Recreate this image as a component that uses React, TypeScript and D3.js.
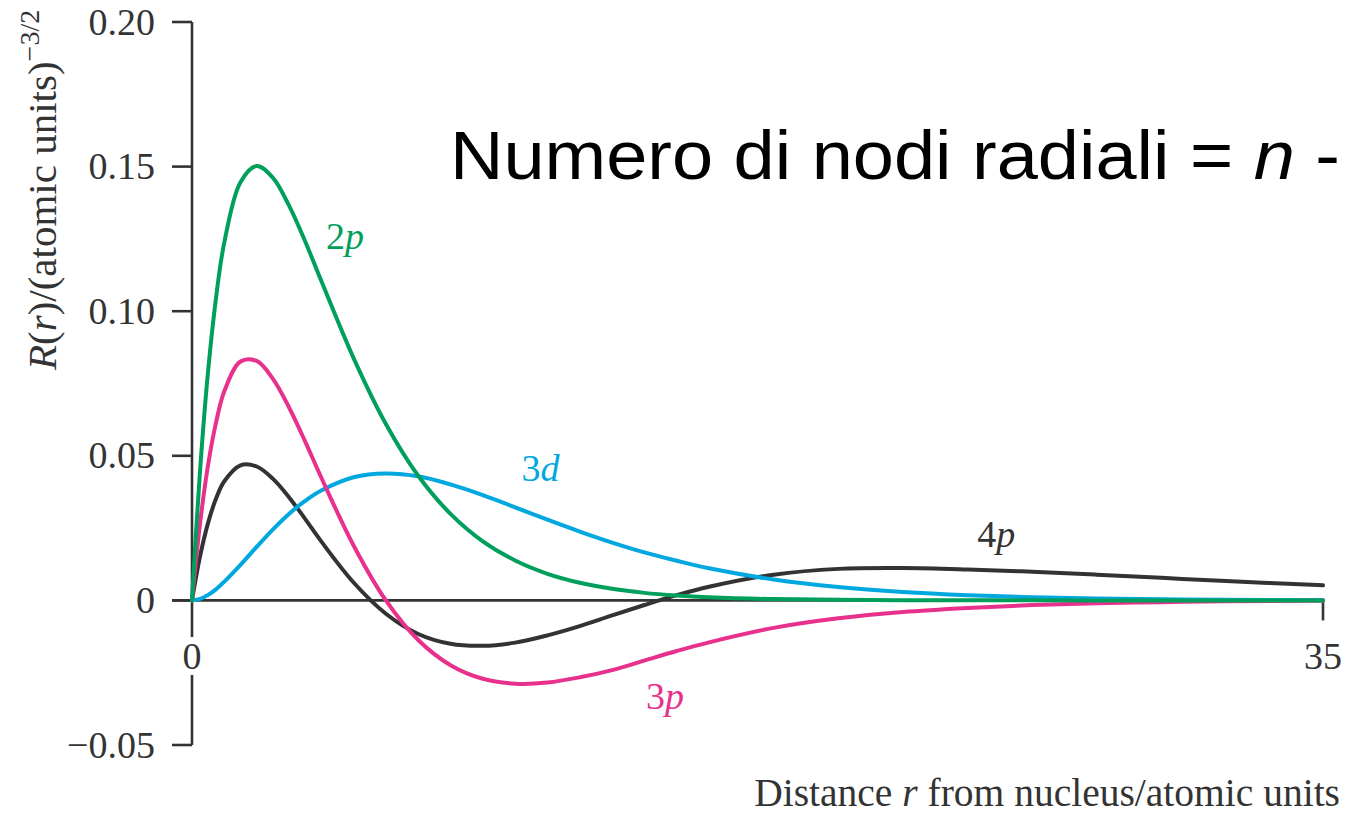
import React from "react";
import * as d3 from "d3";

// Radial wavefunctions R(r) of hydrogen-like orbitals, sampled along r (atomic units)
const rValues = [0, 0.25, 0.5, 0.75, 1, 1.5, 2, 2.5, 3, 3.5, 4, 5, 6, 7, 8, 9, 10, 11, 12, 13, 14, 15, 16, 18, 20, 22, 24, 26, 28, 30, 32, 35];

const r2p = [0, 0.045, 0.0795, 0.1052, 0.1238, 0.1446, 0.1502, 0.1462, 0.1366, 0.1242, 0.1105, 0.0838, 0.061, 0.0431, 0.0299, 0.0204, 0.0138, 0.0092, 0.0061, 0.004, 0.0026, 0.0017, 0.0011, 0.00045, 0.00019, 0.00007, 0.00003, 0.00001, 0, 0, 0, 0];
const r3p = [0, 0.0267, 0.047, 0.0618, 0.0723, 0.0826, 0.0828, 0.0767, 0.0668, 0.055, 0.0425, 0.019, 0, -0.0137, -0.0224, -0.0271, -0.0288, -0.0284, -0.0266, -0.0241, -0.0208, -0.0175, -0.0145, -0.0095, -0.0062, -0.004, -0.0026, -0.0016, -0.001, -0.0006, -0.0003, -0.0001];
const r3d = [0, 0.0005, 0.0019, 0.0039, 0.0065, 0.0123, 0.0185, 0.0245, 0.0299, 0.0344, 0.038, 0.0426, 0.0439, 0.0429, 0.0401, 0.0364, 0.0322, 0.0279, 0.0238, 0.02, 0.0166, 0.0137, 0.0111, 0.0072, 0.0046, 0.0029, 0.0018, 0.0011, 0.0007, 0.0004, 0.0002, 0.0001];
const r4p = [0, 0.0153, 0.0269, 0.0354, 0.0412, 0.0467, 0.0463, 0.0421, 0.0357, 0.0282, 0.0204, 0.0062, -0.0046, -0.0116, -0.015, -0.0157, -0.0146, -0.0121, -0.0089, -0.0052, -0.0016, 0.0018, 0.0047, 0.0089, 0.0109, 0.0112, 0.0107, 0.0099, 0.0089, 0.0078, 0.0067, 0.0052];

const yTicks = [0.2, 0.15, 0.1, 0.05, 0, -0.05];
const yTickLabels = ["0.20", "0.15", "0.10", "0.05", "0", "\u22120.05"];
const xTicks = [0, 35];

const series = [
  { name: "4p", n: "4", l: "p", values: r4p, color: "#333333" },
  { name: "3d", n: "3", l: "d", values: r3d, color: "#00a8df" },
  { name: "3p", n: "3", l: "p", values: r3p, color: "#e8318c" },
  { name: "2p", n: "2", l: "p", values: r2p, color: "#00a05c" },
];

export default function App() {
  const W = 1347;
  const H = 817;
  const x = d3.scaleLinear().domain([0, 35]).range([192, 1323]);
  const y = d3.scaleLinear().domain([-0.05, 0.2]).range([745, 22]);
  const serif = "'Liberation Serif', 'Times New Roman', serif";
  const axisColor = "#333333";
  const textColor = "#333333";

  const line = (vals: number[]) =>
    d3
      .line<number>()
      .x((_, i) => x(rValues[i]))
      .y((v) => y(v))
      .curve(d3.curveCatmullRom.alpha(0.5))(vals) as string;

  // label anchors in data coordinates (r, R)
  const labelPos: Record<string, [number, number]> = {
    "2p": [4.15, 0.1215],
    "3d": [10.2, 0.0412],
    "4p": [24.3, 0.0184],
    "3p": [14.05, -0.0375],
  };

  return (
    <svg width={W} height={H} style={{ display: "block", position: "absolute", left: 0, top: 0, background: "#fff" }}>
      <rect x={0} y={0} width={W} height={H} fill="#fff" />

      {/* y axis */}
      <line x1={x(0)} x2={x(0)} y1={y(0.2)} y2={y(-0.05)} stroke={axisColor} strokeWidth={2.6} />
      {yTicks.map((t) => (
        <line key={t} x1={x(0) - 20} x2={x(0)} y1={y(t)} y2={y(t)} stroke={axisColor} strokeWidth={2.6} />
      ))}
      {yTicks.map((t, i) => (
        <text key={"l" + t} x={155} y={y(t) + 12.5} textAnchor="end" fontFamily={serif} fontSize={38} fill={textColor}>
          {yTickLabels[i]}
        </text>
      ))}

      {/* x axis along R = 0 */}
      <line x1={x(0) - 20} x2={x(35)} y1={y(0)} y2={y(0)} stroke={axisColor} strokeWidth={2.6} />
      <line x1={x(35)} x2={x(35)} y1={y(0)} y2={y(0) + 20} stroke={axisColor} strokeWidth={2.6} />
      <rect x={x(0) - 13} y={637} width={26} height={38} fill="#fff" />
      {xTicks.map((t) => (
        <text key={"x" + t} x={x(t)} y={669} textAnchor="middle" fontFamily={serif} fontSize={38} fill={textColor}>
          {t}
        </text>
      ))}

      {/* curves */}
      {series.map((s) => (
        <path key={s.name} d={line(s.values)} fill="none" stroke={s.color} strokeWidth={4} strokeLinejoin="round" strokeLinecap="round" />
      ))}

      {/* curve labels */}
      {series.map((s) => (
        <text key={"t" + s.name} x={x(labelPos[s.name][0])} y={y(labelPos[s.name][1])} fontFamily={serif} fontSize={38} fill={s.color}>
          {s.n}
          <tspan fontStyle="italic">{s.l}</tspan>
        </text>
      ))}

      {/* y axis title */}
      <text transform="translate(56,370) rotate(-90)" fontFamily={serif} fontSize={41} fill={textColor}>
        <tspan fontStyle="italic">R</tspan>(<tspan fontStyle="italic">r</tspan>)/(atomic units)
        <tspan fontSize={28} dy={-17}>{"\u22123/2"}</tspan>
      </text>

      {/* x axis title */}
      <text x={1340} y={806} textAnchor="end" fontFamily={serif} fontSize={39.5} fill={textColor}>
        Distance <tspan fontStyle="italic">r</tspan> from nucleus/atomic units
      </text>

      {/* annotation */}
      <text x={450} y={179} fontFamily="'Liberation Sans', Arial, sans-serif" fontSize={68} fill="#000" textLength={890} lengthAdjust="spacingAndGlyphs">
        Numero di nodi radiali = <tspan fontStyle="italic">n</tspan> -
      </text>
    </svg>
  );
}
